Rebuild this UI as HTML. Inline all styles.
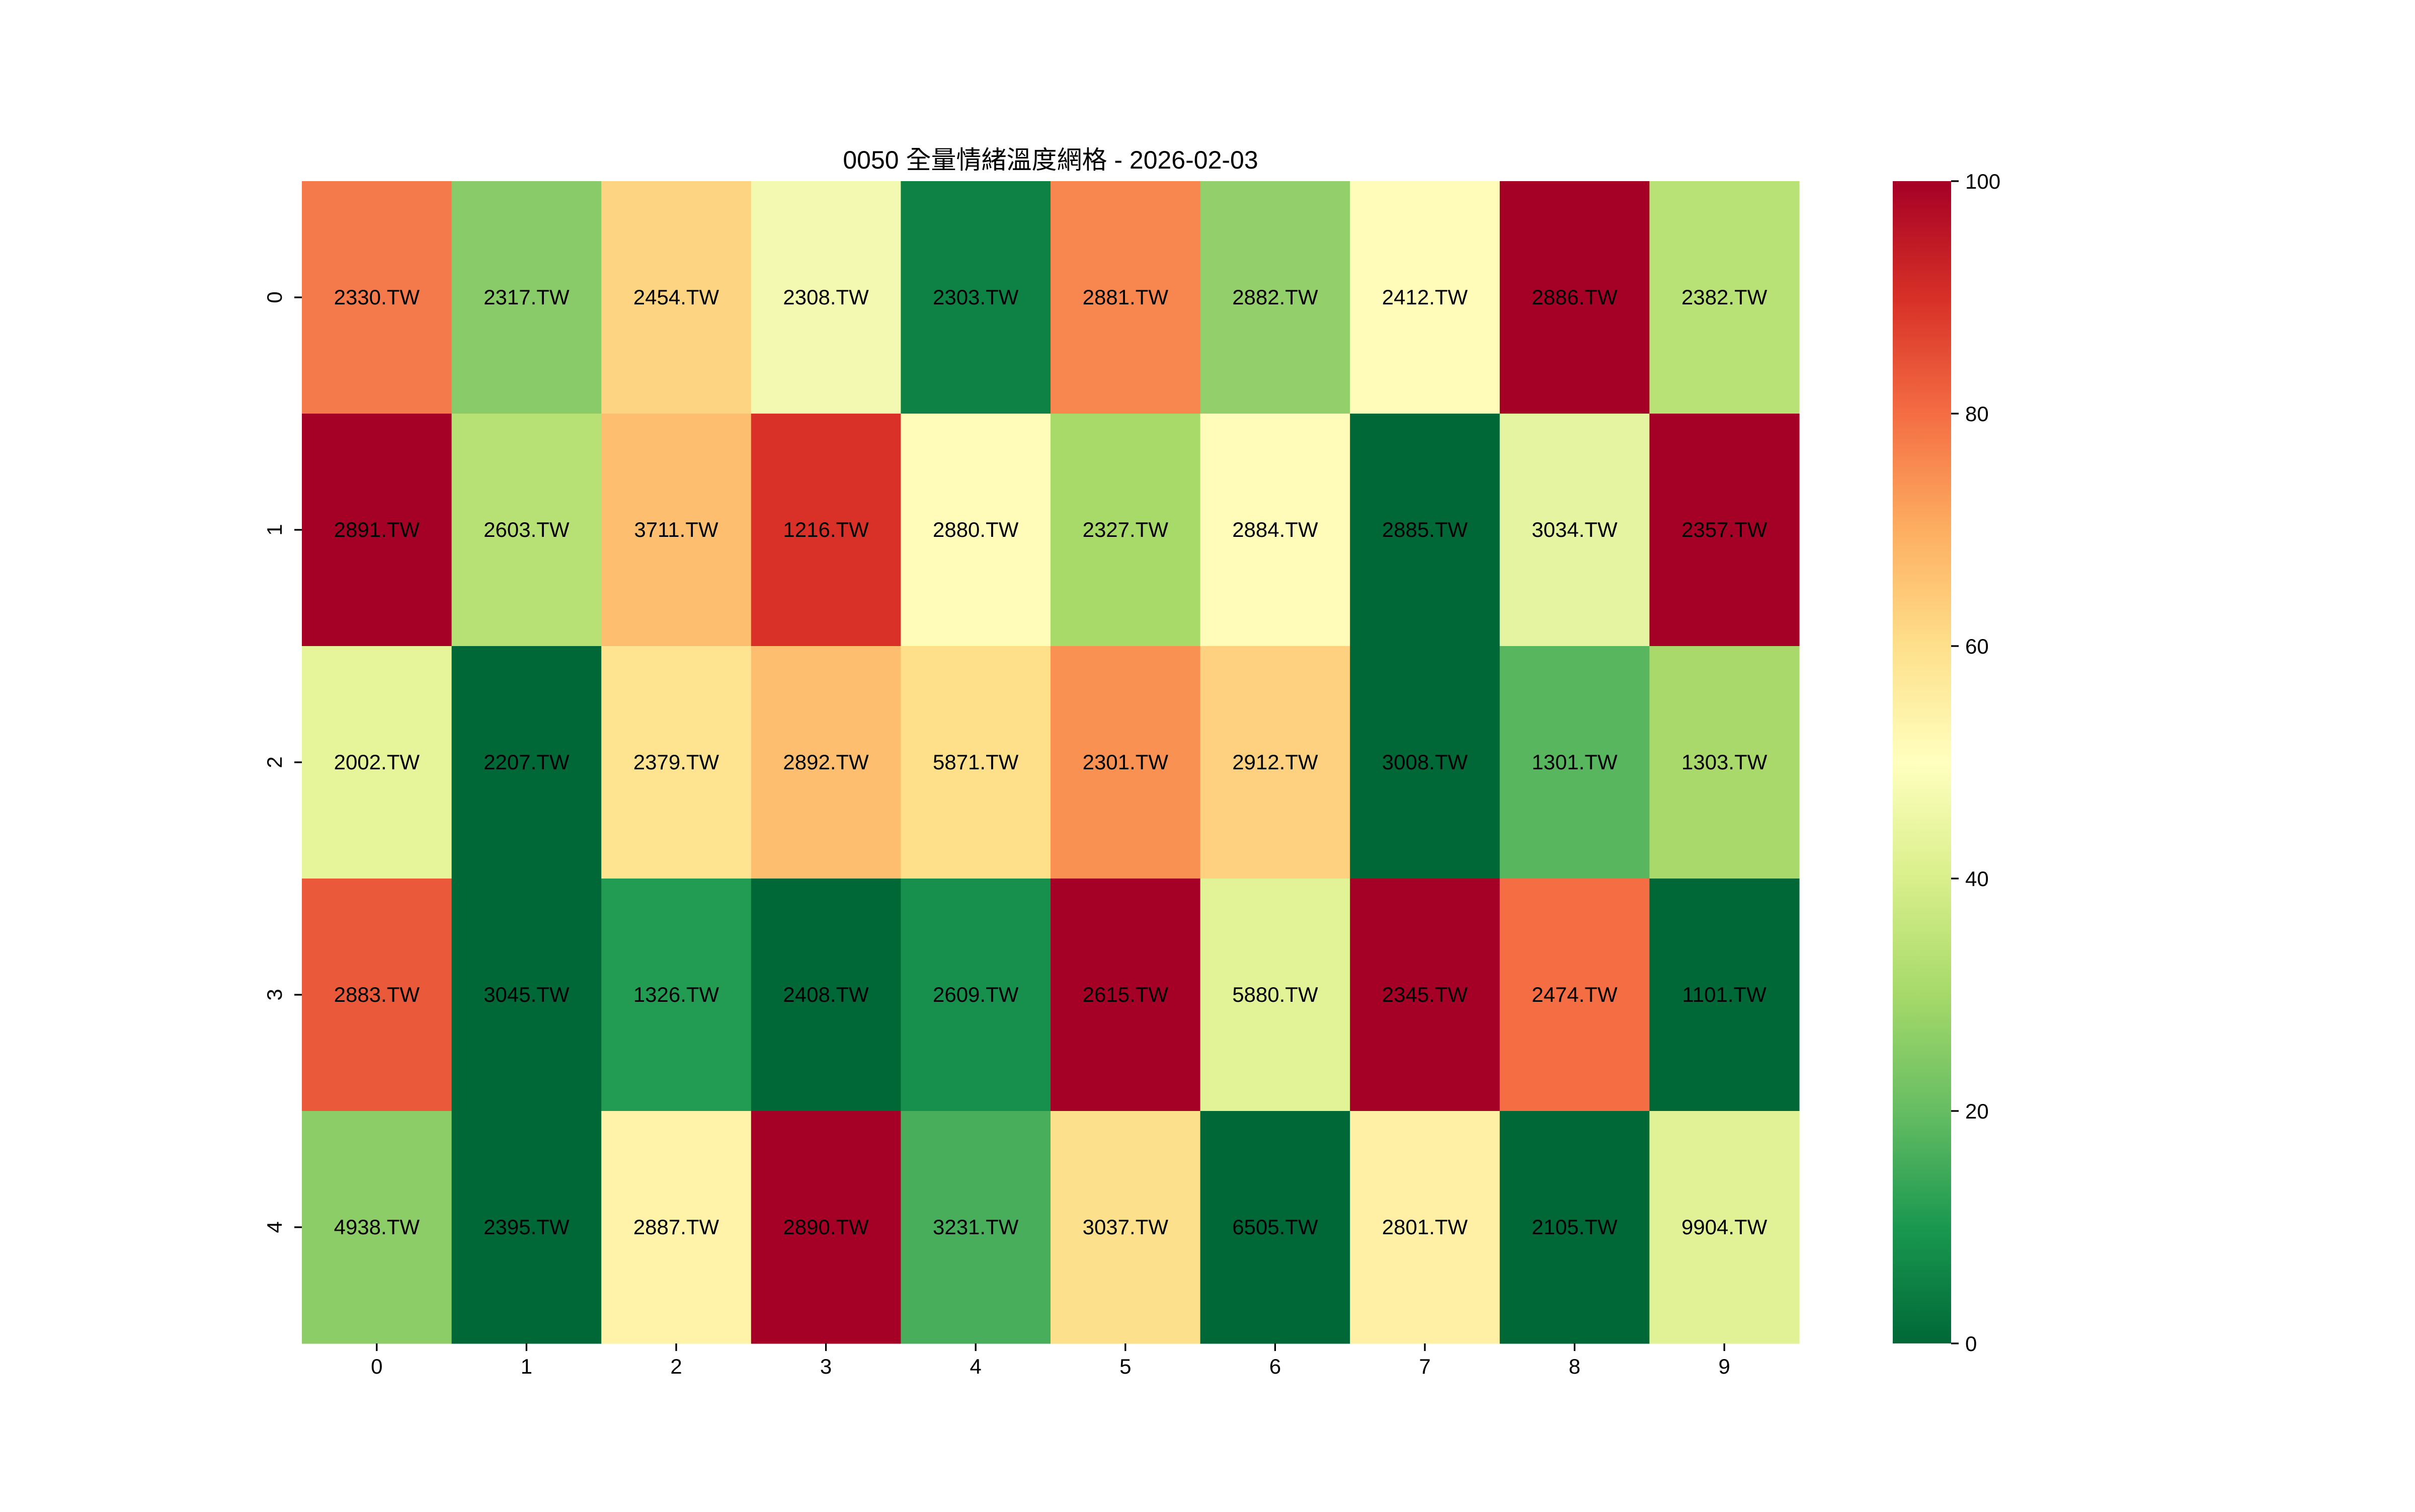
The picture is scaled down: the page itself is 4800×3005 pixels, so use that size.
<!DOCTYPE html>
<html><head><meta charset="utf-8"><style>
html,body{margin:0;padding:0;background:#fff;}
svg text{font-family:"Liberation Sans","Noto Sans CJK TC",sans-serif;fill:#000;}
</style></head><body>
<svg xmlns="http://www.w3.org/2000/svg" width="4800" height="3000" viewBox="0 0 4800 3000">
<defs>
<linearGradient id="cb" x1="0" y1="1" x2="0" y2="0">
<stop offset="0" stop-color="#006837"/><stop offset="0.1" stop-color="#1a9850"/><stop offset="0.2" stop-color="#66bd63"/><stop offset="0.3" stop-color="#a6d96a"/><stop offset="0.4" stop-color="#d9ef8b"/><stop offset="0.5" stop-color="#ffffbf"/><stop offset="0.6" stop-color="#fee08b"/><stop offset="0.7" stop-color="#fdae61"/><stop offset="0.8" stop-color="#f46d43"/><stop offset="0.9" stop-color="#d73027"/><stop offset="1" stop-color="#a50026"/>
</linearGradient>
</defs>
<rect width="4800" height="3000" fill="#fff"/>
<text x="2088" y="335" font-size="50" text-anchor="middle">0050 全量情緒溫度網格 - 2026-02-03</text>
<g id="cells"></g>
<rect x="3762" y="360" width="116" height="2310" fill="url(#cb)"/>
<g id="cbt"></g>
<g id="ax"></g>
</svg>
<script>
var cols=[
["#f47a4b","#88cb68","#fdd582","#f3f9b0","#0e8245","#f8864f","#93cf6a","#fffbb9","#a50026","#b8e176"],
["#a50026","#b7e075","#fdbf6f","#d93127","#fffcba","#a8da6a","#fffcba","#006837","#e4f4a0","#a50026"],
["#e7f59a","#006837","#fee491","#fdbf6f","#fee08b","#f99153","#fdd17f","#006837","#58b65f","#a8d96a"],
["#e9593a","#006837","#219c52","#006837","#16904c","#a50026","#e2f397","#a50026","#f46d43","#006837"],
["#8ccd67","#006837","#fff3aa","#a50026","#48ae5c","#fde08b","#006837","#fff0a6","#006837","#e0f295"]];
var lab=[
["2330","2317","2454","2308","2303","2881","2882","2412","2886","2382"],
["2891","2603","3711","1216","2880","2327","2884","2885","3034","2357"],
["2002","2207","2379","2892","5871","2301","2912","3008","1301","1303"],
["2883","3045","1326","2408","2609","2615","5880","2345","2474","1101"],
["4938","2395","2887","2890","3231","3037","6505","2801","2105","9904"]];
var L=600,T=360,W=297.6,H=462,s="";
for(var r=0;r<5;r++)for(var c=0;c<10;c++){
s+='<rect x="'+(L+c*W)+'" y="'+(T+r*H)+'" width="'+(W+0.6)+'" height="'+(H+0.6)+'" fill="'+cols[r][c]+'"/>';
s+='<text x="'+(L+c*W+W/2)+'" y="'+(T+r*H+H/2+14)+'" font-size="42" text-anchor="middle">'+lab[r][c]+'.TW</text>';}
document.getElementById("cells").innerHTML=s;
var a="";
for(var c=0;c<10;c++){var x=L+c*W+W/2;a+='<line x1="'+x+'" y1="2670" x2="'+x+'" y2="2685" stroke="#000" stroke-width="3.3"/><text x="'+x+'" y="2730" font-size="42" text-anchor="middle">'+c+'</text>';}
for(var r=0;r<5;r++){var y=T+r*H+H/2;a+='<line x1="585" y1="'+y+'" x2="600" y2="'+y+'" stroke="#000" stroke-width="3.3"/><text transform="translate(560,'+y+') rotate(-90)" font-size="42" text-anchor="middle">'+r+'</text>';}
document.getElementById("ax").innerHTML=a;
var b="";
for(var v=0;v<=100;v+=20){var y=2670-v/100*2310;b+='<line x1="3878" y1="'+y+'" x2="3893" y2="'+y+'" stroke="#000" stroke-width="3.3"/><text x="3906" y="'+(y+15)+'" font-size="42">'+v+'</text>';}
document.getElementById("cbt").innerHTML=b;
</script>
</body></html>
